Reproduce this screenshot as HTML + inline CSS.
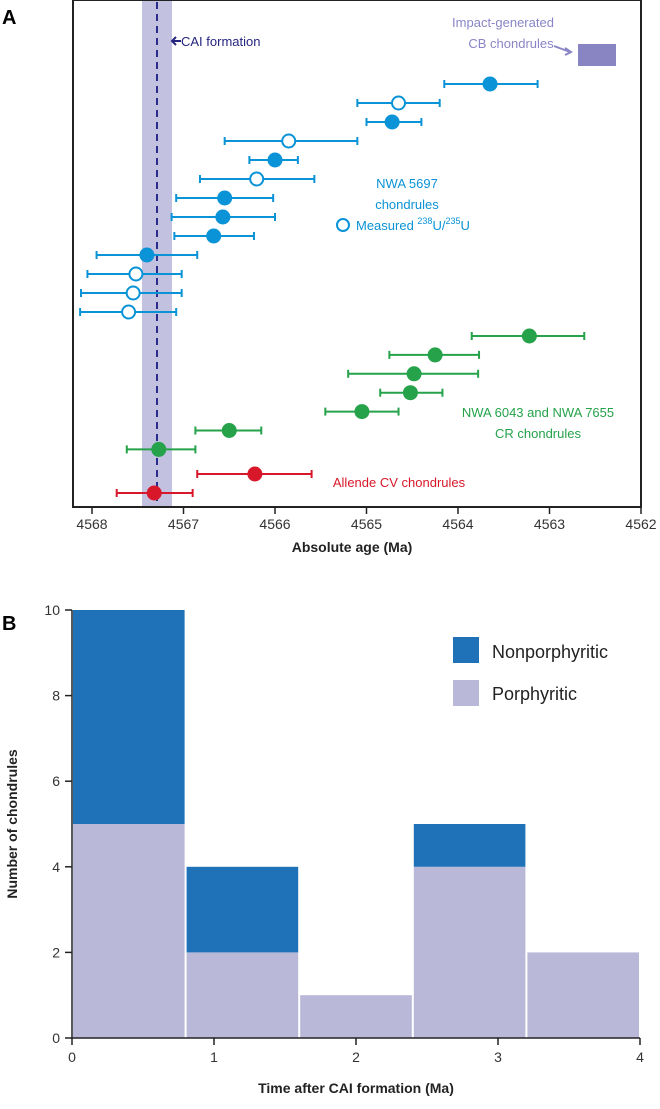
<!DOCTYPE html>
<html><head><meta charset="utf-8"><style>
body{margin:0;background:#fff}
svg text{font-family:"Liberation Sans",sans-serif}
</style></head><body>
<svg id="s" width="660" height="1104" xmlns="http://www.w3.org/2000/svg">
<text x="2" y="24" font-size="20" font-weight="bold">A</text>
<text x="2" y="630" font-size="20" font-weight="bold">B</text>
<g id="A"></g>
<g id="B"></g>
</svg>
<script>
// Panel A data
const blueAge=[4563.65,4564.65,4564.72,4565.85,4566.0,4566.2,4566.55,4566.57,4566.67,4567.4,4567.52,4567.55,4567.6];
const blueLo=[4564.15,4565.1,4565.0,4566.55,4566.28,4566.82,4567.08,4567.13,4567.1,4567.95,4568.05,4568.12,4568.13];
const blueHi=[4563.13,4564.2,4564.4,4565.1,4565.75,4565.57,4566.02,4566.0,4566.23,4566.85,4567.02,4567.02,4567.08];
const blueOpen=[0,1,0,1,0,1,0,0,0,0,1,1,1];
const greenAge=[4563.22,4564.25,4564.48,4564.52,4565.05,4566.5,4567.27];
const greenLo=[4563.85,4564.75,4565.2,4564.85,4565.45,4566.87,4567.62];
const greenHi=[4562.62,4563.77,4563.78,4564.17,4564.65,4566.15,4566.87];
const redAge=[4566.22,4567.32];
const redLo=[4566.85,4567.73];
const redHi=[4565.6,4566.9];
const ageTicks=[4568,4567,4566,4565,4564,4563,4562];
// Panel B data
const binStart=[0,0.8,1.6,2.4,3.2];
const porphyritic=[5,2,1,4,2];
const nonporphyritic=[5,2,0,1,0];
const bXTicks=[0,1,2,3,4];
const bYTicks=[0,2,4,6,8,10];

const NS="http://www.w3.org/2000/svg";
function mk(p,t,a,txt){const e=document.createElementNS(NS,t);for(const k in a)e.setAttribute(k,a[k]);if(txt!==undefined)e.textContent=txt;p.appendChild(e);return e;}
const xA=v=>92+(4568-v)*91.5;
const A=document.getElementById('A');
let e=mk(A,'rect',{x:142,y:0,width:30,height:507,fill:'#c3c1e0'});


e=mk(A,'line',{x1:157,y1:2,x2:157,y2:507,stroke:'#2b2b8c','stroke-width':2,'stroke-dasharray':'7,5'});


e=mk(A,'rect',{x:73,y:0,width:568,height:507,fill:'none',stroke:'#222','stroke-width':2});


ageTicks.forEach(t=>{const x=xA(t);
 e=mk(A,'line',{x1:x,y1:507,x2:x,y2:514,stroke:'#222','stroke-width':1.5});
 
 
 e=mk(A,'text',{x:x,y:529,'font-size':14,'text-anchor':'middle',fill:'#333'},t);
 
 
});
e=mk(A,'text',{x:352,y:552,'font-size':14,'font-weight':'bold','text-anchor':'middle',fill:'#222'},'Absolute age (Ma)');


function series(ages,lo,hi,y0,dy,col,open,name){
 ages.forEach((a,i)=>{const y=y0+i*dy;
  const g=mk(A,'g',{});
  
  
  mk(g,'line',{x1:xA(lo[i]),y1:y,x2:xA(hi[i]),y2:y,stroke:col,'stroke-width':2});
  mk(g,'line',{x1:xA(lo[i]),y1:y-4,x2:xA(lo[i]),y2:y+4,stroke:col,'stroke-width':2});
  mk(g,'line',{x1:xA(hi[i]),y1:y-4,x2:xA(hi[i]),y2:y+4,stroke:col,'stroke-width':2});
  const o=open&&open[i];
  mk(g,'circle',{cx:xA(a),cy:y,r:o?6.5:7.5,fill:o?'#fff':col,stroke:col,'stroke-width':o?2:0});
 });
}
series(blueAge,blueLo,blueHi,84,19,'#0a93d6',blueOpen,'nwa5697');
series(greenAge,greenLo,greenHi,336,18.9,'#25a24a',null,'cr-chondrule');
series(redAge,redLo,redHi,474,19,'#d8182a',null,'allende');
e=mk(A,'rect',{x:578,y:44,width:38,height:22,fill:'#8985c2'});


const labs=[[181,46,'#25257f','CAI formation','start'],[503,27,'#8a85c6','Impact-generated','middle'],[511,48,'#8a85c6','CB chondrules','middle'],[407,188,'#0a93d6','NWA 5697','middle'],[407,209,'#0a93d6','chondrules','middle'],[538,417,'#25a24a','NWA 6043 and NWA 7655','middle'],[538,438,'#25a24a','CR chondrules','middle'],[399,487,'#d8182a','Allende CV chondrules','middle']];
labs.forEach(l=>{e=mk(A,'text',{x:l[0],y:l[1],'font-size':13,fill:l[2],'text-anchor':l[4]},l[3]);
 
 });
e=mk(A,'path',{d:'M181 41 L172 41 M176 37 L172 41 L176 45',stroke:'#25257f','stroke-width':2,fill:'none'});


e=mk(A,'path',{d:'M554 46 L570 52 M565 48 L571 52 L565 55',stroke:'#8a85c6','stroke-width':2,fill:'none'});


e=mk(A,'circle',{cx:343,cy:225,r:6,fill:'#fff',stroke:'#0a93d6','stroke-width':2});


e=mk(A,'text',{x:356,y:230,'font-size':13,fill:'#0a93d6'});


e.innerHTML='Measured <tspan font-size="9" dy="-6">238</tspan><tspan dy="6">U/</tspan><tspan font-size="9" dy="-6">235</tspan><tspan dy="6">U</tspan>';

// Panel B
const B=document.getElementById('B');
const xB=v=>72+v*142,yB=v=>1038-v*42.8;
binStart.forEach((s,i)=>{const x=xB(s)+1,w=0.8*142-2;
 e=mk(B,'rect',{x:x,y:yB(porphyritic[i]),width:w,height:yB(0)-yB(porphyritic[i]),fill:'#b9b8d9'});
 
 
 if(nonporphyritic[i]>0){
 e=mk(B,'rect',{x:x,y:yB(porphyritic[i]+nonporphyritic[i]),width:w,height:yB(porphyritic[i])-yB(porphyritic[i]+nonporphyritic[i]),fill:'#1f72b8'});
 
 }
});
e=mk(B,'path',{d:'M72 610 L72 1038 L640 1038',stroke:'#222','stroke-width':1.5,fill:'none'});


bYTicks.forEach(t=>{
 e=mk(B,'line',{x1:65,y1:yB(t),x2:72,y2:yB(t),stroke:'#222','stroke-width':1.5});
 
 
 e=mk(B,'text',{x:60,y:yB(t)+5,'font-size':14,'text-anchor':'end',fill:'#333'},t);
 
 });
bXTicks.forEach(t=>{
 e=mk(B,'line',{x1:xB(t),y1:1038,x2:xB(t),y2:1045,stroke:'#222','stroke-width':1.5});
 
 
 e=mk(B,'text',{x:xB(t),y:1062,'font-size':14,'text-anchor':'middle',fill:'#333'},t);
 
 });
e=mk(B,'text',{x:356,y:1093,'font-size':14,'font-weight':'bold','text-anchor':'middle',fill:'#222'},'Time after CAI formation (Ma)');


e=mk(B,'text',{x:17,y:824,'font-size':14,'font-weight':'bold','text-anchor':'middle',fill:'#222',transform:'rotate(-90 17 824)'},'Number of chondrules');


e=mk(B,'rect',{x:453,y:637,width:26,height:26,fill:'#1f72b8'});


e=mk(B,'text',{x:492,y:658,'font-size':18,fill:'#222'},'Nonporphyritic');


e=mk(B,'rect',{x:453,y:680,width:26,height:26,fill:'#b9b8d9'});


e=mk(B,'text',{x:492,y:700,'font-size':18,fill:'#222'},'Porphyritic');


</script>
</body></html>
